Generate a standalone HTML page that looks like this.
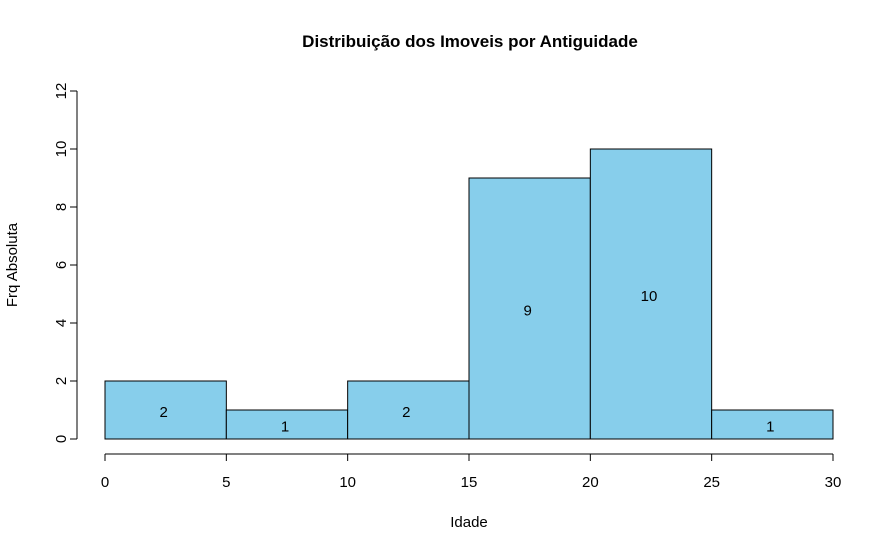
<!DOCTYPE html>
<html><head><meta charset="utf-8"><style>
body{margin:0;background:#fff}
svg text{font-family:"Liberation Sans",Arial,sans-serif;fill:#000}
</style></head><body>
<svg width="870" height="540" id="chart">
<text x="470" y="47" text-anchor="middle" font-size="17" font-weight="bold">Distribuição dos Imoveis por Antiguidade</text>
<text x="469" y="527" text-anchor="middle" font-size="15">Idade</text>
<text transform="translate(17,265) rotate(-90)" text-anchor="middle" font-size="15">Frq Absoluta</text>
<g id="bars"></g><g id="xaxis"></g><g id="yaxis"></g>
</svg>
<script>
const binStarts=[0,5,10,15,20,25];
const binWidth=5;
const counts=[2,1,2,9,10,1];
const xTicks=[0,5,10,15,20,25,30];
const yTicks=[0,2,4,6,8,10,12];
const NS="http://www.w3.org/2000/svg";
const sx=v=>105+v*(833-105)/30;
const sy=v=>439-v*(439-91)/12;
function mk(t,a,p){const e=document.createElementNS(NS,t);for(const k in a)e.setAttribute(k,a[k]);p.appendChild(e);return e;}
const bars=document.getElementById('bars');
counts.forEach((c,i)=>{
 const r=mk('rect',{x:sx(binStarts[i]),y:sy(c),width:sx(binStarts[i]+binWidth)-sx(binStarts[i]),height:sy(0)-sy(c),fill:'#87ceeb',stroke:'#000','stroke-width':1},bars);
 
 
 const t=mk('text',{x:sx(binStarts[i]+binWidth/2)-2,y:sy(c/2)+7,'text-anchor':'middle','font-size':15},bars);
 t.textContent=c;
 
 
});
const xa=document.getElementById('xaxis');
const xl=mk('line',{x1:sx(xTicks[0]),x2:sx(xTicks[xTicks.length-1]),y1:454,y2:454,stroke:'#000'},xa);


xTicks.forEach(v=>{
 mk('line',{x1:sx(v),x2:sx(v),y1:454,y2:461,stroke:'#000'},xa);
 const t=mk('text',{x:sx(v),y:487,'text-anchor':'middle','font-size':15},xa);
 t.textContent=v;
 
 
});
const ya=document.getElementById('yaxis');
const yl=mk('line',{x1:77,x2:77,y1:sy(yTicks[0]),y2:sy(yTicks[yTicks.length-1]),stroke:'#000'},ya);


yTicks.forEach(v=>{
 mk('line',{x1:70,x2:77,y1:sy(v),y2:sy(v),stroke:'#000'},ya);
 const t=mk('text',{transform:`translate(66,${sy(v)}) rotate(-90)`,'text-anchor':'middle','font-size':15},ya);
 t.textContent=v;
 
 
});
</script>
</body></html>
